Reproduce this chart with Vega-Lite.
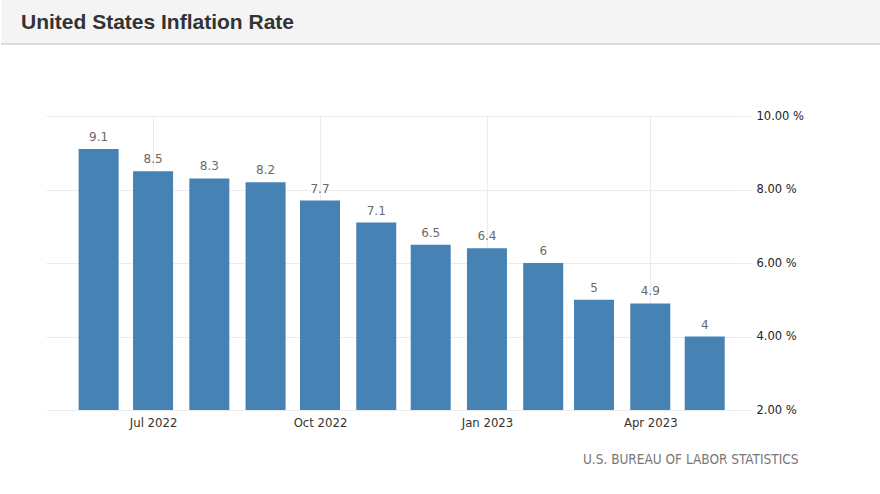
{
  "$schema": "https://vega.github.io/schema/vega-lite/v6.json",
  "padding": 0,
  "background": "white",
  "spacing": 65,
  "config": {"view": {"stroke": null}},
  "vconcat": [
    {
      "width": 880,
      "height": 44,
      "data": {"values": [{"lo": 0, "hi": 1, "mid": 0.5, "title": "United States Inflation Rate"}]},
      "layer": [
        {
          "mark": {"type": "rect", "color": "#f4f4f4"},
          "encoding": {
            "x": {"field": "lo", "type": "quantitative", "scale": {"domain": [0, 1], "nice": false, "zero": false}, "axis": null},
            "x2": {"field": "hi"},
            "y": {"field": "lo", "type": "quantitative", "scale": {"domain": [0, 1], "nice": false, "zero": false}, "axis": null},
            "y2": {"field": "hi"}
          }
        },
        {
          "mark": {"type": "rule", "color": "#d2d2d2", "strokeWidth": 1.5},
          "encoding": {
            "x": {"field": "lo", "type": "quantitative"},
            "x2": {"field": "hi"},
            "y": {"field": "lo", "type": "quantitative"}
          }
        },
        {
          "mark": {"type": "text", "align": "left", "baseline": "middle", "dx": 20, "dy": 1, "font": "Liberation Sans", "fontWeight": "bold", "fontSize": 21, "color": "#333333"},
          "encoding": {
            "x": {"field": "lo", "type": "quantitative"},
            "y": {"field": "mid", "type": "quantitative"},
            "text": {"field": "title"}
          }
        }
      ]
    },
    {
      "spacing": 44,
      "hconcat": [
        {
          "width": 1,
          "height": 294,
          "data": {"values": [{}]},
          "mark": {"type": "point", "opacity": 0, "size": 0},
          "encoding": {}
        },
        {
          "width": 695,
          "height": 294,
          "data": {
            "values": [
              {"date": "2022-06-01", "rate": 9.1},
              {"date": "2022-07-01", "rate": 8.5},
              {"date": "2022-08-01", "rate": 8.3},
              {"date": "2022-09-01", "rate": 8.2},
              {"date": "2022-10-01", "rate": 7.7},
              {"date": "2022-11-01", "rate": 7.1},
              {"date": "2022-12-01", "rate": 6.5},
              {"date": "2023-01-01", "rate": 6.4},
              {"date": "2023-02-01", "rate": 6.0},
              {"date": "2023-03-01", "rate": 5.0},
              {"date": "2023-04-01", "rate": 4.9},
              {"date": "2023-05-01", "rate": 4.0}
            ]
          },
          "encoding": {
            "x": {
              "field": "date",
              "type": "temporal",
              "scale": {
                "type": "utc",
                "padding": 0,
                "domain": [
                  {"year": 2022, "month": 5, "date": 3, "utc": true},
                  {"year": 2023, "month": 5, "date": 21, "utc": true}
                ]
              },
              "axis": {
                "values": [
                  {"year": 2022, "month": 7, "date": 1, "utc": true},
                  {"year": 2022, "month": 10, "date": 1, "utc": true},
                  {"year": 2023, "month": 1, "date": 1, "utc": true},
                  {"year": 2023, "month": 4, "date": 1, "utc": true}
                ],
                "format": "%b %Y",
                "grid": true,
                "gridColor": "#ececec",
                "ticks": false,
                "domain": false,
                "labelFont": "DejaVu Sans Condensed, DejaVu Sans",
                "labelFontSize": 13,
                "labelColor": "#333333",
                "labelPadding": 6,
                "title": "U.S. BUREAU OF LABOR STATISTICS",
                "titleX": 752,
                "titleY": 53,
                "titleAlign": "right",
                "titleBaseline": "alphabetic",
                "titleFont": "DejaVu Sans Condensed, DejaVu Sans",
                "titleFontSize": 13.5,
                "titleFontWeight": "normal",
                "titleColor": "#777777"
              }
            }
          },
          "layer": [
            {
              "mark": {"type": "bar", "size": 40, "color": "#4682b4"},
              "encoding": {
                "y": {
                  "field": "rate",
                  "type": "quantitative",
                  "scale": {"domain": [2, 10], "zero": false, "nice": false},
                  "axis": {
                    "orient": "right",
                    "values": [2, 4, 6, 8, 10],
                    "labelExpr": "format(datum.value, '.2f') + ' %'",
                    "grid": true,
                    "gridColor": "#ececec",
                    "tickColor": "#ececec",
                    "tickSize": 10,
                    "domain": false,
                    "labelPadding": 5,
                    "labelFont": "DejaVu Sans",
                    "labelFontSize": 11.5,
                    "labelColor": "#222222",
                    "title": null
                  }
                },
                "y2": {"datum": 2}
              }
            },
            {
              "mark": {"type": "text", "baseline": "alphabetic", "dy": -8, "font": "DejaVu Sans", "fontSize": 12, "color": "#6a6a6a"},
              "encoding": {
                "y": {"field": "rate", "type": "quantitative"},
                "text": {"field": "rate", "type": "quantitative"}
              }
            }
          ]
        }
      ]
    }
  ]
}
